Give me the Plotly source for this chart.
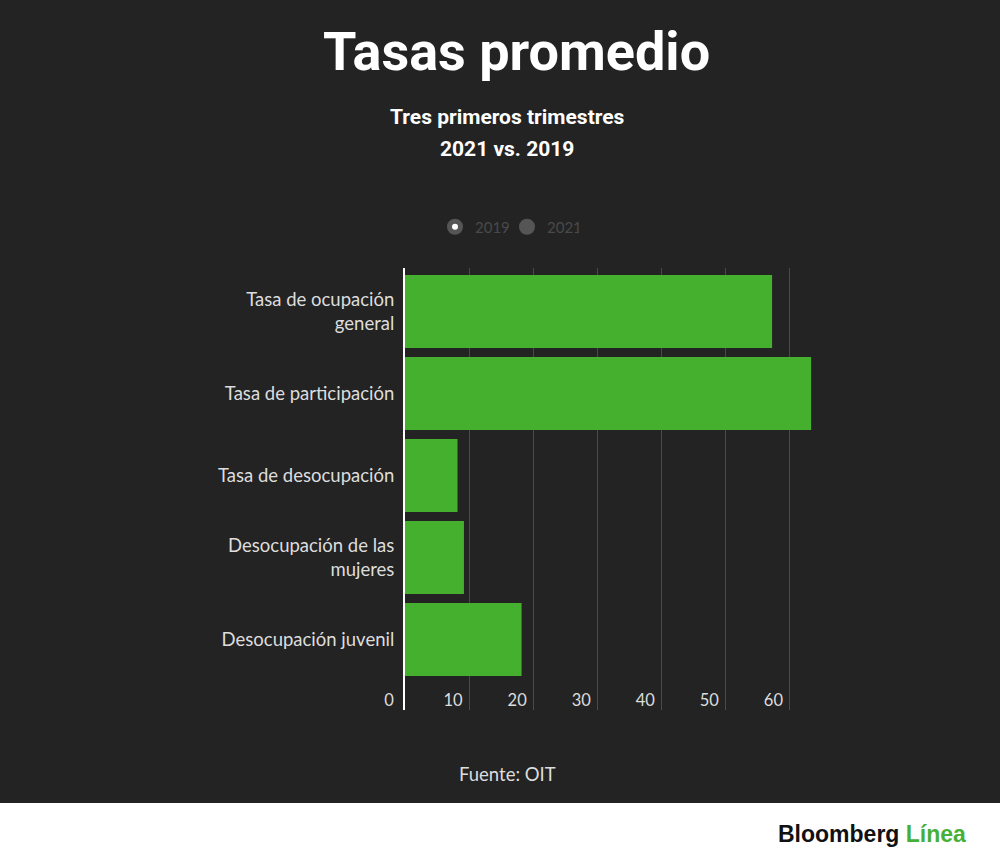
import plotly.graph_objects as go

categories = [
    "Tasa de ocupación<br>general",
    "Tasa de participación",
    "Tasa de desocupación",
    "Desocupación de las<br>mujeres",
    "Desocupación juvenil",
]
values_2019 = [57.3, 63.4, 8.2, 9.2, 18.2]
legend_names = ["2019", "2021"]
x_ticks = [0, 10, 20, 30, 40, 50, 60]

W, H = 1000, 866
L, R, T, B = 405, 815, 268, 710
PW, PH = R - L, B - T

def px(xp):
    return (xp - L) / PW

def py(yp):
    return (B - yp) / PH

BG = "#232323"
GREEN = "#44b02e"
TXT = "#dddddd"

fig = go.Figure()
fig.add_trace(go.Bar(
    y=categories, x=values_2019, orientation="h",
    marker=dict(color=GREEN, line=dict(width=0)),
    showlegend=False, name="2019",
))
# legend entries
fig.add_trace(go.Scatter(x=[None], y=[None], mode="markers", name=legend_names[0],
                         marker=dict(color="#555555", size=16), legend="legend"))
fig.add_trace(go.Scatter(x=[None], y=[None], mode="markers", name=legend_names[1],
                         marker=dict(color="#555555", size=16), legend="legend"))
fig.add_trace(go.Scatter(x=[None], y=[None], mode="markers", name=" ",
                         marker=dict(color="#ffffff", size=6), legend="legend2"))

legend_common = dict(
    orientation="h", xanchor="left", yanchor="middle",
    x=px(435), y=py(227), bgcolor="rgba(0,0,0,0)",
    font=dict(family="Lato", size=15, color="#4a4a4a"),
    entrywidth=27, entrywidthmode="pixels",
    itemclick=False, itemdoubleclick=False,
)

fig.update_layout(
    width=W, height=H,
    paper_bgcolor=BG, plot_bgcolor=BG,
    margin=dict(l=L, r=W - R, t=T, b=H - B, pad=0),
    bargap=0.11,
    showlegend=True,
    legend=legend_common,
    legend2=legend_common,
    xaxis=dict(
        range=[0, 64], tickvals=x_ticks, ticktext=[str(v) for v in x_ticks],
        showgrid=True, gridcolor="#4a4a4a", gridwidth=1,
        zeroline=False, showline=False, ticks="",
        tickfont=dict(family="Lato", size=16.5, color=TXT),
        ticklabelstandoff=-22, ticklabelshift=-16,
        fixedrange=True,
    ),
    yaxis=dict(
        categoryorder="array", categoryarray=categories,
        range=[4.86, -0.53],
        showgrid=False, zeroline=False,
        showline=True, linecolor="#ffffff", linewidth=2,
        ticks="", ticklabelstandoff=5,
        tickfont=dict(family="Lato", size=18.5, color=TXT),
        fixedrange=True,
    ),
    shapes=[dict(type="rect", xref="paper", yref="paper",
                 x0=px(0), x1=px(W), y0=py(H), y1=py(803),
                 fillcolor="#ffffff", line=dict(width=0), layer="below")],
    annotations=[
        dict(text="<b>Tasas promedio</b>", x=px(516), y=py(52), xref="paper", yref="paper",
             showarrow=False, xanchor="center", yanchor="middle",
             font=dict(family="Roboto", size=54, color="#ffffff")),
        dict(text="<b>Tres primeros trimestres</b>", x=px(507), y=py(117), xref="paper", yref="paper",
             showarrow=False, xanchor="center", yanchor="middle",
             font=dict(family="Roboto", size=21, color="#ffffff")),
        dict(text="<b>2021 vs. 2019</b>", x=px(507), y=py(149), xref="paper", yref="paper",
             showarrow=False, xanchor="center", yanchor="middle",
             font=dict(family="Roboto", size=21, color="#ffffff")),
        dict(text="Fuente: OIT", x=px(507), y=py(774), xref="paper", yref="paper",
             showarrow=False, xanchor="center", yanchor="middle",
             font=dict(family="Lato", size=18.5, color=TXT)),
        dict(text="<b>Bloomberg <span style='color:#45b035'>Línea</span></b>",
             x=px(872), y=py(834), xref="paper", yref="paper",
             showarrow=False, xanchor="center", yanchor="middle",
             font=dict(family="Liberation Sans", size=23, color="#111111")),
    ],
)

fig.write_html("out.html", config={"displayModeBar": False},
               post_script="document.body.style.margin='0';document.body.style.padding='0';")
